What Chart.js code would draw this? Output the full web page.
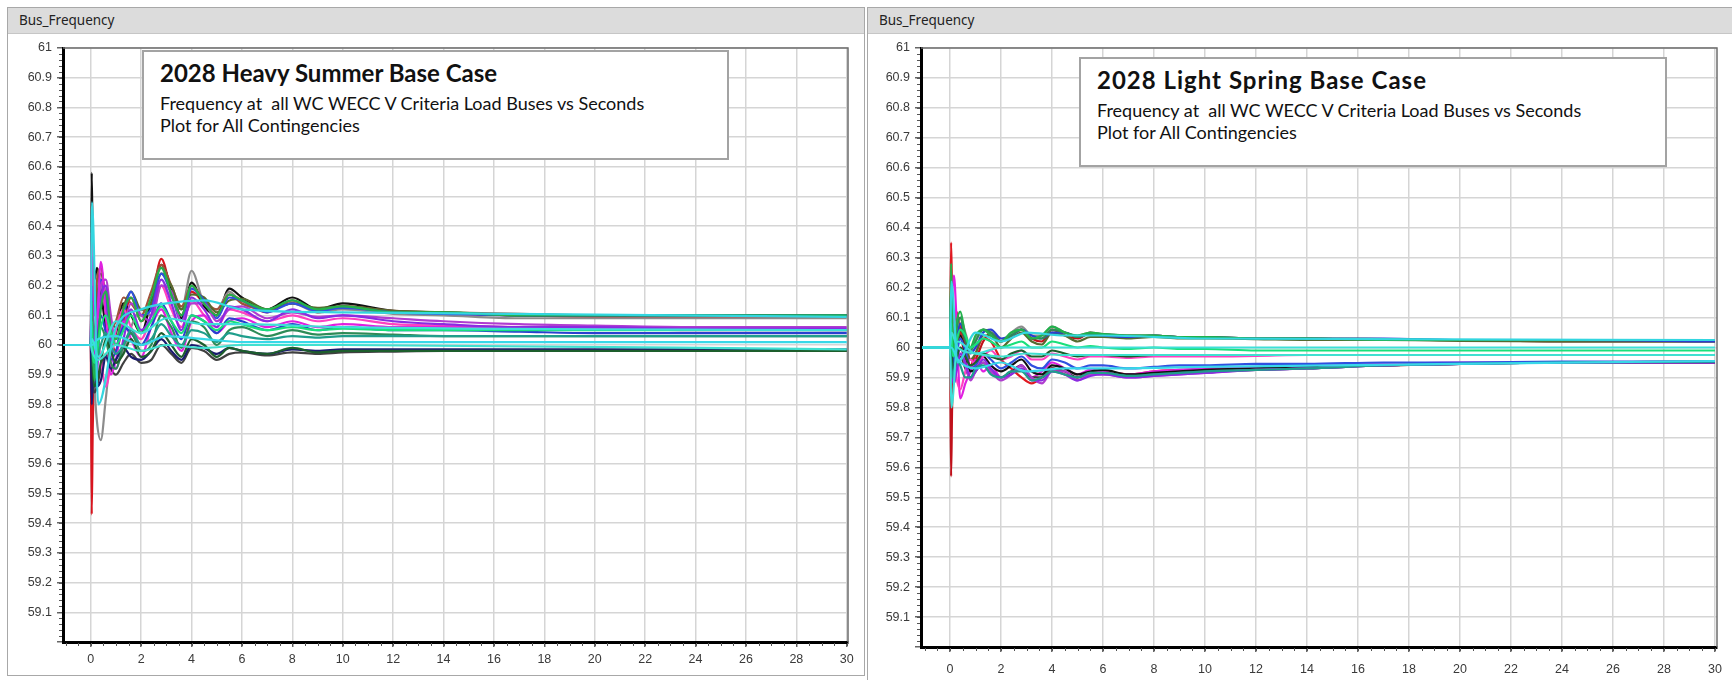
<!DOCTYPE html>
<html>
<head>
<title>Bus_Frequency</title>
<script src="https://cdn.jsdelivr.net/npm/chart.js"></script>
<style>
    body { margin: 0; width: 1732px; height: 680px; position: relative; overflow: hidden; background: #fff; }
    .panel { position: absolute; border: 1px solid #a8a8a8; box-sizing: border-box; background: #fff; }
    .bar { position: absolute; left: 0; right: 0; top: 0; height: 25px; background: #dcdcdc; border-bottom: 1px solid #c6c6c6;
           font-family: "Noto Sans", sans-serif; font-size: 13.5px; color: #222; line-height: 25px; padding-left: 11px; }
    canvas { position: absolute; }
    .note { position: absolute; background: #fff; border: 2px solid #a3a3a3; box-sizing: border-box; font-family: Lato, sans-serif; color: #111; }
    .note div { position: absolute; left: 16px; white-space: pre; }
    .note .t { top: 6px; font-weight: bold; font-size: 24px; }
    .note .s1 { top: 40px; font-size: 18px; }
    .note .s2 { top: 62px; font-size: 18px; }
</style>
</head>
<body>
    <div class="panel" style="left:7px; top:7px; width:858px; height:669px;">
        <div class="bar">Bus_Frequency</div>
    </div>
    <div class="panel" style="left:867px; top:7px; width:880px; height:674px;">
        <div class="bar">Bus_Frequency</div>
    </div>

    <canvas id="hsChart" width="854" height="641" style="left:8px; top:33px;"></canvas>
    <canvas id="lsChart" width="864" height="647" style="left:868px; top:33px;"></canvas>

    <div class="note" style="left:142px; top:50px; width:587px; height:110px;">
        <div class="t">2028 Heavy Summer Base Case</div>
        <div class="s1">Frequency at  all WC WECC V Criteria Load Buses vs Seconds</div>
        <div class="s2">Plot for All Contingencies</div>
    </div>
    <div class="note" style="left:1079px; top:57px; width:588px; height:110px;">
        <div class="t" style="letter-spacing:1px;">2028 Light Spring Base Case</div>
        <div class="s1">Frequency at  all WC WECC V Criteria Load Buses vs Seconds</div>
        <div class="s2">Plot for All Contingencies</div>
    </div>

    <script>
        // time samples (seconds) shared by most traces
        const timeS = [-1.1, 0, 0.04, 0.08, 0.15, 0.25, 0.4, 0.6, 0.8, 1.0, 1.3, 1.6, 2.0, 2.4, 2.8, 3.2,
                       3.6, 4.0, 4.5, 5.0, 5.5, 6.0, 7, 8, 9, 10, 12, 14, 17, 20, 24, 30];
        // sparse output traces (the straight cyan ones)
        const cyanT = [-1.1, 0, 0.05, 0.3, 1.0, 2.0, 3.0, 4.5, 6.0, 10, 30];

        // 2028 Heavy Summer
        const hsBlack     = [60, 60, 60.58, 60.32, 60.22, 60.26, 60.18, 60.06, 60.00, 60.04, 60.14, 60.10, 60.04, 60.15, 60.27, 60.19, 60.09, 60.21, 60.13, 60.10, 60.19, 60.16, 60.12, 60.16, 60.12, 60.14, 60.115, 60.11, 60.10, 60.10, 60.10, 60.10];
        const hsRed       = [60, 60, 59.43, 59.72, 59.95, 60.10, 60.22, 60.12, 60.02, 59.98, 60.08, 60.16, 60.08, 60.14, 60.29, 60.18, 60.10, 60.18, 60.14, 60.10, 60.17, 60.15, 60.11, 60.15, 60.11, 60.13, 60.11, 60.105, 60.10, 60.095, 60.095, 60.095];
        const hsGray      = [60, 60, 60.40, 60.15, 59.88, 59.74, 59.68, 59.82, 59.96, 59.94, 59.98, 60.06, 60.12, 60.10, 60.20, 60.16, 60.12, 60.25, 60.14, 60.12, 60.18, 60.14, 60.12, 60.14, 60.11, 60.12, 60.105, 60.10, 60.09, 60.09, 60.09, 60.09];
        const hsMagenta   = [60, 60, 60.30, 60.10, 59.92, 60.05, 60.28, 60.10, 59.90, 59.95, 60.08, 60.02, 59.96, 60.06, 60.12, 60.04, 59.98, 60.08, 60.10, 60.04, 60.08, 60.09, 60.06, 60.08, 60.06, 60.07, 60.06, 60.06, 60.055, 60.055, 60.05, 60.05];
        const hsPurple    = [60, 60, 60.20, 60.05, 59.86, 59.90, 60.15, 60.20, 60.00, 59.92, 60.02, 60.12, 60.05, 60.10, 60.22, 60.14, 60.05, 60.16, 60.12, 60.06, 60.13, 60.12, 60.08, 60.12, 60.09, 60.10, 60.08, 60.07, 60.06, 60.06, 60.055, 60.055];
        const hsBlue      = [60, 60, 60.10, 59.95, 59.90, 60.00, 60.10, 60.04, 59.95, 59.98, 60.06, 60.04, 60.00, 60.06, 60.14, 60.08, 60.02, 60.10, 60.08, 60.04, 60.09, 60.08, 60.05, 60.07, 60.05, 60.06, 60.05, 60.05, 60.045, 60.04, 60.04, 60.04];
        const hsGreen     = [60, 60, 60.15, 60.00, 59.88, 59.96, 60.12, 60.18, 60.05, 60.02, 60.12, 60.16, 60.08, 60.16, 60.26, 60.17, 60.10, 60.20, 60.14, 60.10, 60.17, 60.15, 60.12, 60.15, 60.12, 60.13, 60.11, 60.11, 60.10, 60.10, 60.10, 60.10];
        const hsDarkGreen = [60, 60, 60.05, 59.92, 59.86, 59.88, 59.94, 60.02, 59.98, 59.94, 59.97, 60.02, 59.96, 59.98, 60.04, 60.00, 59.96, 60.02, 60.00, 59.96, 59.99, 59.98, 59.97, 59.99, 59.975, 59.98, 59.98, 59.98, 59.98, 59.98, 59.98, 59.98];
        const hsSpring    = [60, 60, 60.08, 59.98, 59.94, 59.98, 60.06, 60.10, 60.04, 60.00, 60.05, 60.10, 60.04, 60.08, 60.13, 60.08, 60.04, 60.10, 60.08, 60.05, 60.08, 60.07, 60.05, 60.06, 60.05, 60.055, 60.05, 60.05, 60.05, 60.05, 60.05, 60.05];
        const hsTeal      = [60, 60, 60.02, 59.96, 59.92, 59.95, 60.00, 60.04, 60.00, 59.97, 60.00, 60.05, 60.00, 60.02, 60.07, 60.03, 60.00, 60.05, 60.04, 60.01, 60.04, 60.03, 60.02, 60.03, 60.025, 60.03, 60.03, 60.03, 60.03, 60.03, 60.03, 60.03];
        const hsBrown     = [60, 60, 60.35, 60.20, 60.10, 60.22, 60.26, 60.14, 60.06, 60.08, 60.16, 60.14, 60.10, 60.18, 60.27, 60.20, 60.13, 60.20, 60.15, 60.12, 60.17, 60.14, 60.12, 60.14, 60.12, 60.13, 60.115, 60.11, 60.105, 60.10, 60.10, 60.10];
        const hsNavy      = [60, 60, 59.80, 59.88, 59.94, 59.86, 59.88, 59.96, 59.92, 59.95, 59.99, 59.96, 59.95, 59.98, 60.02, 59.98, 59.95, 60.00, 59.99, 59.97, 59.99, 59.98, 59.97, 59.985, 59.98, 59.985, 59.985, 59.985, 59.985, 59.985, 59.985, 59.985];
        const hsOlive     = [60, 60, 60.25, 60.12, 60.02, 60.15, 60.24, 60.16, 60.08, 60.06, 60.13, 60.18, 60.12, 60.14, 60.24, 60.20, 60.12, 60.17, 60.16, 60.11, 60.15, 60.155, 60.12, 60.14, 60.125, 60.13, 60.115, 60.11, 60.10, 60.10, 60.10, 60.10];
        const hsViolet    = [60, 60, 60.22, 59.98, 59.90, 60.08, 60.20, 60.22, 60.10, 60.00, 60.06, 60.14, 60.10, 60.08, 60.20, 60.18, 60.08, 60.14, 60.14, 60.08, 60.12, 60.13, 60.09, 60.11, 60.095, 60.10, 60.09, 60.08, 60.07, 60.065, 60.06, 60.06];
        const hsRoyal     = [60, 60, 60.18, 60.08, 59.98, 60.10, 60.22, 60.14, 60.04, 60.00, 60.10, 60.18, 60.10, 60.12, 60.24, 60.17, 60.08, 60.19, 60.15, 60.09, 60.16, 60.15, 60.11, 60.14, 60.115, 60.125, 60.11, 60.105, 60.10, 60.10, 60.10, 60.10];
        const hsForest    = [60, 60, 60.12, 59.98, 59.90, 59.96, 60.06, 60.02, 59.94, 59.92, 60.00, 60.04, 59.98, 60.00, 60.10, 60.06, 59.99, 60.08, 60.06, 60.00, 60.05, 60.06, 60.03, 60.05, 60.035, 60.04, 60.035, 60.03, 60.03, 60.03, 60.03, 60.03];
        const hsPink      = [60, 60, 60.38, 60.10, 59.95, 60.02, 59.95, 59.86, 59.94, 60.05, 60.12, 60.06, 60.02, 60.10, 60.20, 60.12, 60.06, 60.15, 60.10, 60.06, 60.12, 60.11, 60.08, 60.10, 60.08, 60.09, 60.07, 60.065, 60.06, 60.055, 60.055, 60.05];
        const hsCharcoal  = [60, 60, 60.10, 59.90, 59.84, 59.86, 59.92, 59.97, 59.92, 59.90, 59.94, 59.97, 59.94, 59.95, 60.00, 59.97, 59.94, 59.99, 59.98, 59.95, 59.97, 59.975, 59.965, 59.975, 59.97, 59.975, 59.978, 59.98, 59.98, 59.98, 59.98, 59.98];
        const hsCyan1     = [60, 60, 60.48, 59.80, 60.06, 60.12, 60.14, 60.15, 60.12, 60.11, 60.095];
        const hsCyan2     = [60, 60, 60.02, 59.96, 60.08, 60.04, 60.09, 60.07, 60.07, 60.06, 60.05];
        const hsCyan3     = [60, 60, 60.00, 60.02, 60.03, 60.00, 60.03, 60.02, 60.01, 60.01, 60.01];
        const hsCyan4     = [60, 60, 59.98, 59.95, 60.00, 59.98, 60.00, 59.99, 60.00, 60.00, 59.985];

        // 2028 Light Spring
        const lsRed       = [60, 60, 60.35, 60.18, 60.08, 60.12, 60.06, 59.96, 59.94, 59.98, 60.03, 60.02, 59.96, 59.93, 59.90, 59.88, 59.90, 59.93, 59.91, 59.90, 59.92, 59.92, 59.91, 59.92, 59.925, 59.925, 59.93, 59.935, 59.94, 59.945, 59.95, 59.95];
        const lsRedDown   = [60, 60, 59.57, 59.80, 59.95, 60.05, 60.08, 60.00, 59.94, 59.96, 60.02, 60.05, 60.02, 60.04, 60.06, 60.03, 60.02, 60.06, 60.04, 60.03, 60.05, 60.04, 60.035, 60.04, 60.035, 60.035, 60.03, 60.03, 60.025, 60.025, 60.02, 60.02];
        const lsMagenta   = [60, 60, 60.10, 60.18, 60.24, 60.10, 59.83, 59.88, 59.92, 59.96, 59.92, 59.94, 59.90, 59.92, 59.94, 59.90, 59.92, 59.95, 59.93, 59.91, 59.925, 59.92, 59.91, 59.92, 59.925, 59.93, 59.935, 59.94, 59.945, 59.95, 59.95, 59.955];
        const lsGreen     = [60, 60, 60.28, 60.10, 60.00, 60.08, 60.12, 60.04, 60.00, 60.04, 60.06, 60.04, 60.02, 60.05, 60.06, 60.03, 60.04, 60.07, 60.05, 60.04, 60.05, 60.045, 60.04, 60.04, 60.035, 60.035, 60.03, 60.03, 60.025, 60.025, 60.025, 60.025];
        const lsBlack     = [60, 60, 60.20, 60.05, 59.92, 59.98, 60.04, 59.98, 59.92, 59.93, 59.97, 59.94, 59.92, 59.94, 59.96, 59.92, 59.91, 59.94, 59.93, 59.91, 59.92, 59.925, 59.91, 59.915, 59.92, 59.925, 59.93, 59.935, 59.94, 59.945, 59.95, 59.95];
        const lsBlue      = [60, 60, 60.15, 60.02, 59.95, 60.02, 60.08, 60.03, 59.98, 60.00, 60.05, 60.06, 60.03, 60.04, 60.06, 60.04, 60.03, 60.05, 60.05, 60.035, 60.045, 60.04, 60.035, 60.04, 60.035, 60.035, 60.03, 60.03, 60.03, 60.025, 60.025, 60.02];
        const lsPurple    = [60, 60, 60.12, 59.95, 59.88, 59.92, 59.98, 59.95, 59.90, 59.92, 59.96, 59.93, 59.90, 59.91, 59.93, 59.89, 59.89, 59.92, 59.91, 59.89, 59.905, 59.91, 59.90, 59.905, 59.91, 59.915, 59.925, 59.93, 59.94, 59.945, 59.95, 59.95];
        const lsDarkGreen = [60, 60, 60.05, 59.96, 59.92, 59.96, 60.00, 59.97, 59.94, 59.95, 59.98, 59.97, 59.96, 59.98, 59.99, 59.97, 59.97, 59.99, 59.98, 59.97, 59.975, 59.975, 59.97, 59.975, 59.975, 59.975, 59.975, 59.975, 59.975, 59.975, 59.975, 59.975];
        const lsSpring    = [60, 60, 60.08, 60.00, 59.97, 60.02, 60.06, 60.04, 60.00, 60.01, 60.03, 60.02, 60.00, 60.01, 60.02, 60.00, 60.00, 60.02, 60.01, 60.00, 60.005, 60.00, 59.995, 60.00, 59.995, 59.995, 59.99, 59.99, 59.99, 59.99, 59.99, 59.99];
        const lsGray      = [60, 60, 60.18, 60.05, 59.96, 60.04, 60.10, 60.05, 60.00, 60.03, 60.06, 60.05, 60.02, 60.05, 60.07, 60.04, 60.04, 60.07, 60.05, 60.04, 60.05, 60.045, 60.04, 60.04, 60.035, 60.035, 60.03, 60.03, 60.025, 60.025, 60.02, 60.02];
        const lsTeal      = [60, 60, 59.95, 59.90, 59.92, 59.96, 59.94, 59.90, 59.90, 59.93, 59.94, 59.91, 59.90, 59.92, 59.92, 59.89, 59.90, 59.92, 59.91, 59.90, 59.915, 59.915, 59.905, 59.91, 59.915, 59.92, 59.925, 59.93, 59.94, 59.945, 59.95, 59.953];
        const lsOlive     = [60, 60, 60.14, 60.02, 59.94, 59.98, 60.06, 60.02, 59.96, 59.98, 60.04, 60.04, 60.00, 60.03, 60.05, 60.02, 60.01, 60.05, 60.04, 60.02, 60.035, 60.035, 60.03, 60.035, 60.03, 60.03, 60.028, 60.025, 60.025, 60.022, 60.02, 60.02];
        const lsViolet    = [60, 60, 60.16, 60.00, 59.90, 59.94, 60.00, 59.94, 59.89, 59.92, 59.95, 59.92, 59.89, 59.91, 59.94, 59.90, 59.88, 59.92, 59.92, 59.89, 59.91, 59.91, 59.90, 59.905, 59.91, 59.915, 59.925, 59.93, 59.94, 59.945, 59.95, 59.95];
        const lsRoyal     = [60, 60, 60.10, 59.98, 59.92, 59.97, 60.03, 59.99, 59.93, 59.94, 59.98, 59.96, 59.93, 59.95, 59.97, 59.94, 59.93, 59.96, 59.95, 59.93, 59.94, 59.94, 59.93, 59.935, 59.94, 59.94, 59.945, 59.945, 59.95, 59.95, 59.953, 59.953];
        const lsForest    = [60, 60, 60.22, 60.08, 59.98, 60.06, 60.10, 60.03, 59.99, 60.02, 60.06, 60.05, 60.02, 60.04, 60.06, 60.03, 60.03, 60.06, 60.05, 60.035, 60.045, 60.045, 60.04, 60.04, 60.035, 60.035, 60.03, 60.03, 60.028, 60.025, 60.025, 60.025];
        const lsPink      = [60, 60, 60.20, 60.12, 59.98, 59.90, 59.86, 59.92, 59.96, 59.94, 59.97, 59.99, 59.96, 59.97, 59.99, 59.96, 59.96, 59.98, 59.97, 59.96, 59.97, 59.97, 59.965, 59.97, 59.97, 59.97, 59.972, 59.975, 59.975, 59.975, 59.975, 59.975];
        const lsCharcoal  = [60, 60, 60.02, 59.93, 59.88, 59.93, 59.97, 59.93, 59.90, 59.92, 59.95, 59.92, 59.90, 59.92, 59.94, 59.90, 59.90, 59.93, 59.92, 59.90, 59.915, 59.915, 59.905, 59.91, 59.915, 59.92, 59.925, 59.93, 59.94, 59.945, 59.95, 59.95];
        const lsCyan1     = [60, 60, 60.22, 59.95, 60.05, 60.02, 60.05, 60.04, 60.04, 60.03, 60.025];
        const lsCyan2     = [60, 60, 59.80, 60.02, 59.98, 60.00, 60.00, 60.00, 60.00, 60.00, 60.00];
        const lsCyan3     = [60, 60, 60.00, 59.96, 59.93, 59.95, 59.92, 59.93, 59.93, 59.935, 59.955];
        const lsCyan4     = [60, 60, 60.05, 60.00, 59.98, 59.97, 59.98, 59.975, 59.975, 59.975, 59.975];

        // first entry is drawn on top
        const hsSeries = [
            [cyanT, hsCyan1, '#33d6e0'], [cyanT, hsCyan2, '#3ee0d8'], [cyanT, hsCyan3, '#38d8e8'], [cyanT, hsCyan4, '#40e0d0'],
            [timeS, hsSpring, '#19e07a'], [timeS, hsGreen, '#22b14c'], [timeS, hsTeal, '#1f9e8c'], [timeS, hsDarkGreen, '#1d5e2c'],
            [timeS, hsForest, '#2e8b57'], [timeS, hsBlue, '#2a3fd0'], [timeS, hsNavy, '#1b1b6e'], [timeS, hsPurple, '#8a2be2'],
            [timeS, hsMagenta, '#e020e0'], [timeS, hsViolet, '#b03cd0'], [timeS, hsPink, '#ff40c0'], [timeS, hsRoyal, '#3050e0'],
            [timeS, hsOlive, '#556b2f'], [timeS, hsCharcoal, '#404040'], [timeS, hsBrown, '#a0523a'], [timeS, hsGray, '#8c8c8c'],
            [timeS, hsBlack, '#111111'], [timeS, hsRed, '#d8141e']
        ];
        const lsSeries = [
            [cyanT, lsCyan1, '#33d6e0'], [cyanT, lsCyan2, '#3ee0d8'], [cyanT, lsCyan3, '#38d8e8'], [cyanT, lsCyan4, '#40e0d0'],
            [timeS, lsSpring, '#19e07a'], [timeS, lsGreen, '#22b14c'], [timeS, lsTeal, '#1f9e8c'], [timeS, lsDarkGreen, '#1d5e2c'],
            [timeS, lsForest, '#2e8b57'], [timeS, lsBlue, '#2a3fd0'], [timeS, lsRoyal, '#3050e0'], [timeS, lsPurple, '#8a2be2'],
            [timeS, lsViolet, '#b03cd0'], [timeS, lsPink, '#ff40c0'], [timeS, lsOlive, '#556b2f'], [timeS, lsCharcoal, '#404040'],
            [timeS, lsGray, '#8c8c8c'], [timeS, lsBlack, '#111111'], [timeS, lsMagenta, '#e020e0'], [timeS, lsRedDown, '#c0101a'],
            [timeS, lsRed, '#e01820']
        ];

        function toDatasets(series) {
            return series.map(([ts, vs, color]) => ({
                data: vs.map((v, i) => ({ x: ts[i], y: v })),
                borderColor: color,
                borderWidth: 2.2,
                pointRadius: 0,
                cubicInterpolationMode: 'monotone'
            }));
        }

        // top/right frame and the small minor ticks
        const framePlugin = {
            id: 'frame',
            afterDraw(chart) {
                const { ctx, chartArea: a, scales: { x, y } } = chart;
                ctx.save();
                ctx.strokeStyle = '#6e6e6e';
                ctx.lineWidth = 1.5;
                ctx.beginPath();
                ctx.moveTo(a.left, a.top);
                ctx.lineTo(a.right, a.top);
                ctx.lineTo(a.right, a.bottom);
                ctx.stroke();
                ctx.strokeStyle = '#555';
                ctx.lineWidth = 1;
                ctx.beginPath();
                for (let v = Math.ceil(x.min * 2) / 2; v <= x.max; v += 0.5) {
                    const px = Math.round(x.getPixelForValue(v)) + 0.5;
                    ctx.moveTo(px, a.bottom + 1);
                    ctx.lineTo(px, a.bottom + 4);
                }
                for (let k = 1; k < 100; k++) {
                    const py = Math.round(y.getPixelForValue(59 + k * 0.02)) + 0.5;
                    ctx.moveTo(a.left - 4, py);
                    ctx.lineTo(a.left - 1, py);
                }
                ctx.stroke();
                ctx.restore();
            }
        };

        function makeChart(id, series, cfg) {
            const tickFont = { family: 'Liberation Sans', size: 12.5 };
            return new Chart(document.getElementById(id), {
                type: 'line',
                data: { datasets: toDatasets(series) },
                plugins: [framePlugin],
                options: {
                    responsive: false,
                    animation: false,
                    layout: { padding: { top: 15, right: cfg.padRight, left: 0, bottom: 0 } },
                    plugins: { legend: { display: false }, tooltip: { enabled: false } },
                    scales: {
                        x: {
                            type: 'linear',
                            min: cfg.xMin,
                            max: cfg.xMax,
                            afterFit: s => { s.height = cfg.xAxisH; },
                            border: { color: '#000', width: 3 },
                            grid: { color: '#d5d5d5', lineWidth: 1.5, tickLength: 5, tickColor: '#666' },
                            ticks: { stepSize: 2, includeBounds: false, autoSkip: false, maxRotation: 0,
                                     padding: cfg.xPad, color: '#3a3a3a', font: tickFont }
                        },
                        y: {
                            min: 59,
                            max: 61,
                            afterFit: s => { s.width = cfg.yAxisW; },
                            border: { color: '#000', width: 3 },
                            grid: { color: '#d5d5d5', lineWidth: 1.5, tickLength: 6, tickColor: '#666' },
                            ticks: { stepSize: 0.1, autoSkip: false, padding: 5, color: '#3a3a3a', font: tickFont,
                                     callback: v => v < 59.05 ? '' : String(Math.round(v * 10) / 10) }
                        }
                    }
                }
            });
        }

        makeChart('hsChart', hsSeries, { xMin: -1.1, xMax: 30.05, padRight: 14, xAxisH: 32, yAxisW: 55, xPad: 5 });
        makeChart('lsChart', lsSeries, { xMin: -1.14, xMax: 30.08, padRight: 15, xAxisH: 33, yAxisW: 53, xPad: 10 });
    </script>
</body>
</html>
